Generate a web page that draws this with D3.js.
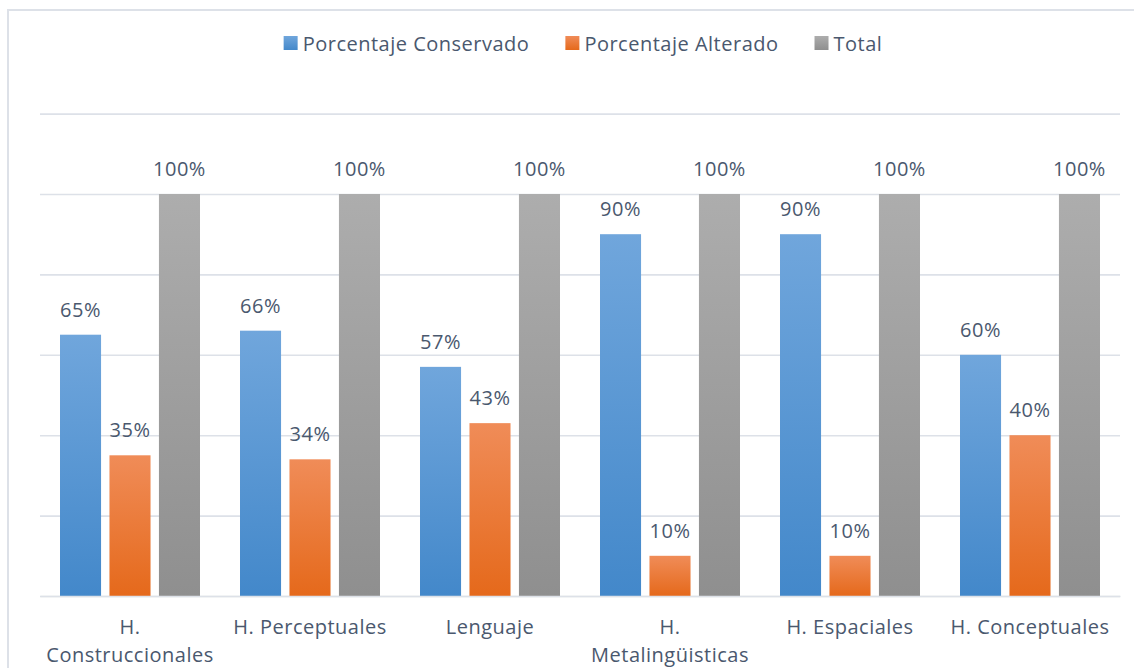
<!DOCTYPE html>
<html>
<head>
<meta charset="utf-8">
<script src="https://cdn.jsdelivr.net/npm/d3@7"></script>
<style>
	html, body { margin: 0; padding: 0; background: #fff; overflow: hidden; width: 1134px; height: 668px; }
	::-webkit-scrollbar { display: none; width: 0; height: 0; }
	svg { display: block; }
</style>
</head>
<body>
<div id="chart"></div>
<script>
// datos
var categories = [
	['H.', 'Construccionales'],
	['H. Perceptuales'],
	['Lenguaje'],
	['H.', 'Metalingüisticas'],
	['H. Espaciales'],
	['H. Conceptuales']
];
var seriesNames = ['Porcentaje Conservado', 'Porcentaje Alterado', 'Total'];
var conservado = [65, 66, 57, 90, 90, 60];
var alterado = [35, 34, 43, 10, 10, 40];
var total = [100, 100, 100, 100, 100, 100];
var yTicks = [0, 20, 40, 60, 80, 100, 120];

var width = 1134,
	height = 668,
	margin = { top: 114, right: 14, bottom: 72, left: 40 };

var font = '"Open Sans", sans-serif',
	fontSize = 20,
	spacing = 0.5,
	textColor = '#4a586e',
	gridColor = '#dde1e8';

// colores: arriba / abajo del degradado
var palette = [
	['#70a6dc', '#4388ca'],
	['#f08c58', '#e5691b'],
	['#adadad', '#8f8f8f']
];

var svg = d3.select('#chart')
	.append('svg')
	.attr('width', width)
	.attr('height', height);

var defs = svg.append('defs');
palette.forEach(function(c, i) {
	var g = defs.append('linearGradient')
		.attr('id', 'grad' + i)
		.attr('x1', 0).attr('y1', 0)
		.attr('x2', 0).attr('y2', 1);
	g.append('stop').attr('offset', '0%').attr('stop-color', c[0]);
	g.append('stop').attr('offset', '100%').attr('stop-color', c[1]);
});

// marco del grafico: solo se ven el borde de arriba y el de la izquierda
svg.append('path')
	.attr('d', 'M8,' + height + 'V10H' + width)
	.attr('fill', 'none')
	.attr('stroke', gridColor)
	.attr('stroke-width', 2);

var x0 = d3.scaleBand()
	.domain(d3.range(categories.length))
	.range([margin.left, 1120])
	.padding(0);

var x1 = d3.scaleBand()
	.domain(d3.range(seriesNames.length))
	.range([20, x0.bandwidth() - 20])
	.paddingInner(0.17)
	.paddingOuter(0);

var y = d3.scaleLinear()
	.domain([0, 120])
	.range([596, 113.6]);

// lineas de cuadricula
var yAxis = d3.axisLeft(y)
	.tickValues(yTicks)
	.tickSize(-(1120 - margin.left))
	.tickSizeOuter(0)
	.tickFormat('');

svg.append('g')
	.attr('transform', 'translate(' + margin.left + ',0)')
	.call(yAxis)
	.call(function(g) {
		g.select('.domain').remove();
		g.selectAll('.tick line')
			.attr('stroke', gridColor)
			.attr('stroke-width', 1.6);
	});

var seriesData = [conservado, alterado, total];

var groups = svg.append('g')
	.selectAll('g')
	.data(categories)
	.enter()
	.append('g')
	.attr('transform', function(d, i) {
		return 'translate(' + x0(i) + ',0)';
	});

groups.each(function(d, ci) {
	var grp = d3.select(this);
	seriesData.forEach(function(values, si) {
		var v = values[ci];
		grp.append('rect')
			.attr('x', x1(si))
			.attr('y', y(v))
			.attr('width', x1.bandwidth())
			.attr('height', y(0) - y(v))
			.attr('fill', 'url(#grad' + si + ')');
		grp.append('text')
			.attr('x', x1(si) + x1.bandwidth() / 2)
			.attr('y', y(v) - 18)
			.attr('text-anchor', 'middle')
			.attr('font-family', font)
			.attr('font-size', fontSize)
			.attr('letter-spacing', spacing)
			.attr('fill', textColor)
			.text(v + '%');
	});
});

// etiquetas del eje x
var xAxis = d3.axisBottom(x0).tickSize(0).tickSizeOuter(0).tickFormat('');
var xg = svg.append('g')
	.attr('transform', 'translate(0,' + y(0) + ')')
	.call(xAxis);
xg.select('.domain').attr('stroke', gridColor).attr('stroke-width', 1.6);

xg.selectAll('.tick').each(function(d) {
	var t = d3.select(this).append('text')
		.attr('text-anchor', 'middle')
		.attr('font-family', font)
		.attr('font-size', fontSize)
		.attr('letter-spacing', spacing)
		.attr('fill', textColor);
	categories[d].forEach(function(line, k) {
		t.append('tspan')
			.attr('x', 0)
			.attr('y', 38 + k * 28)
			.text(line);
	});
});

// leyenda
var legend = svg.append('g');
var lx = 0,
	itemGap = 36;
seriesNames.forEach(function(name, i) {
	var item = legend.append('g').attr('transform', 'translate(' + lx + ',0)');
	item.append('rect')
		.attr('x', 0)
		.attr('y', 36)
		.attr('width', 14)
		.attr('height', 14)
		.attr('fill', 'url(#grad' + i + ')');
	var t = item.append('text')
		.attr('x', 19)
		.attr('y', 51)
		.attr('font-family', font)
		.attr('font-size', fontSize)
		.attr('letter-spacing', spacing)
		.attr('fill', textColor)
		.text(name);
	lx += 19 + t.node().getComputedTextLength() + itemGap;
});
var legendW = lx - itemGap;
legend.attr('transform', 'translate(' + (583 - legendW / 2) + ',0)');
</script>
</body>
</html>
